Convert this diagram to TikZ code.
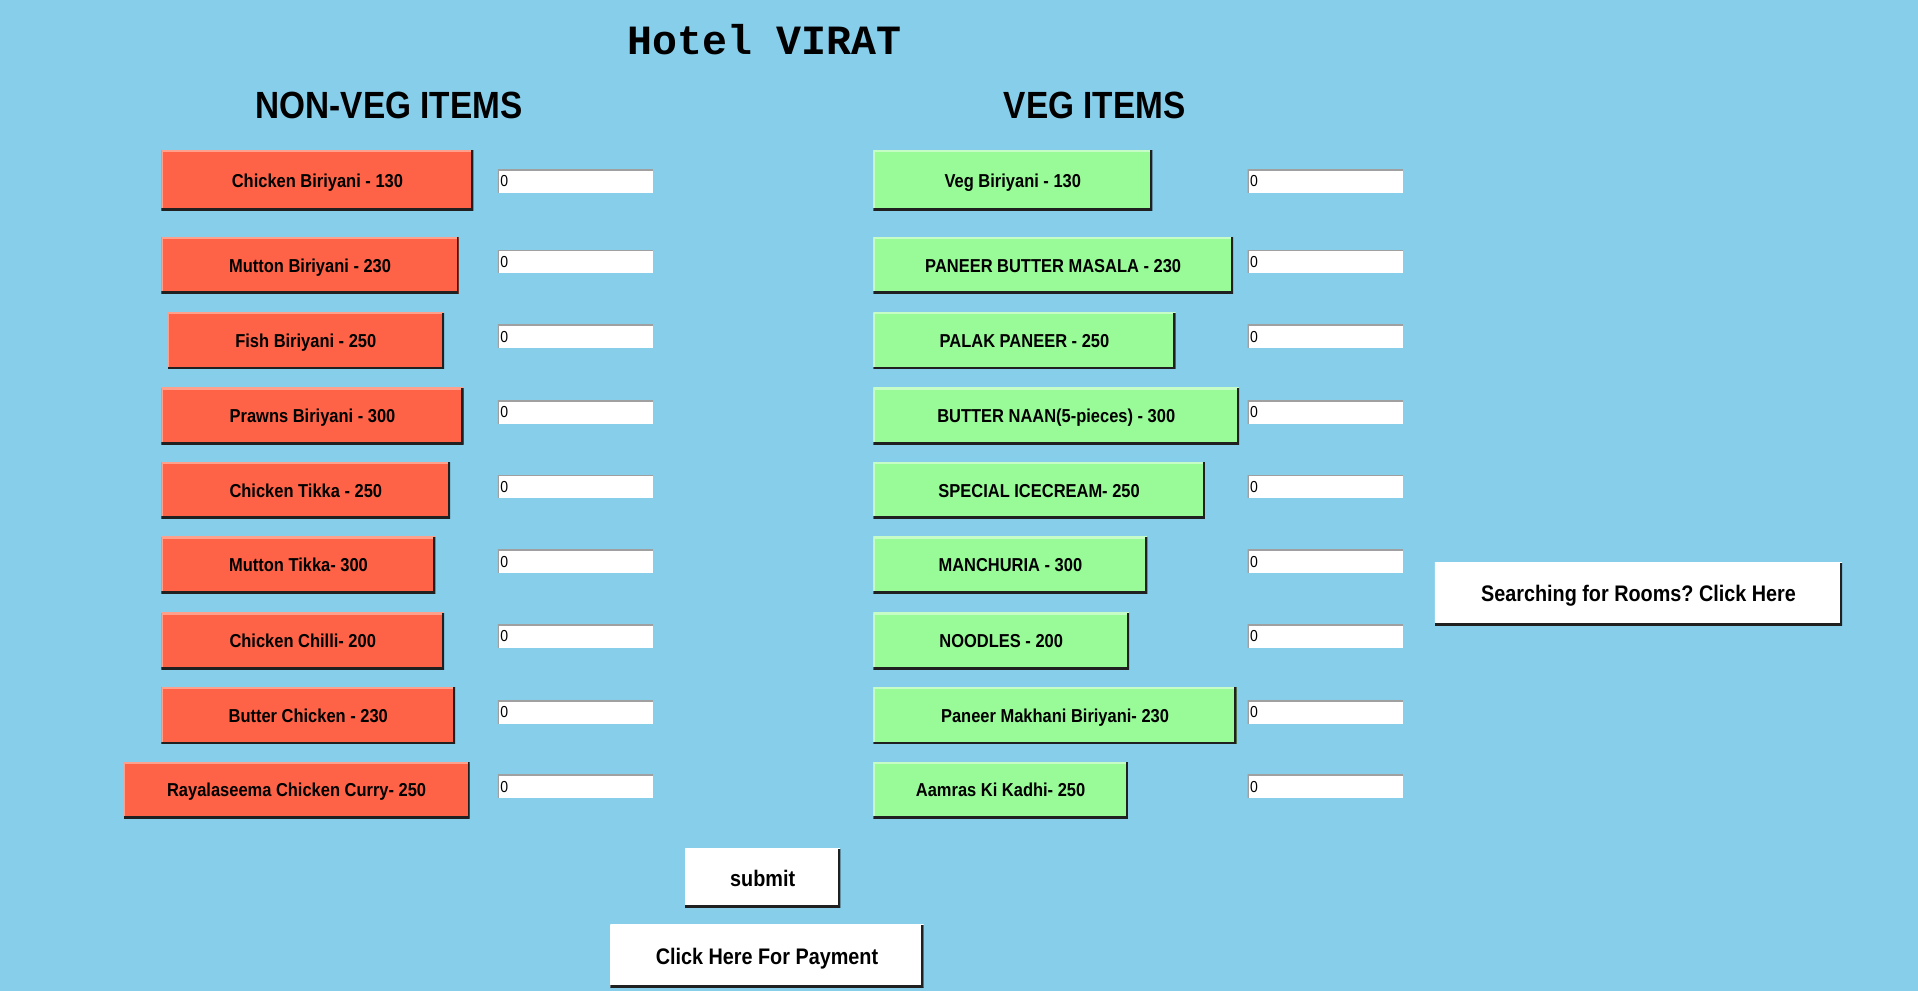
\documentclass[tikz,border=0pt]{standalone}
\usepackage{fontspec}
\setmainfont{Liberation Sans}
\newfontfamily\uifont[FakeStretch=0.88]{Liberation Sans}
\newfontfamily\titlefont{Liberation Mono}
\usetikzlibrary{positioning}
\frenchspacing
\definecolor{skyback}{HTML}{87CEEB}
\definecolor{nonveg}{HTML}{FF6347}
\definecolor{nonvegedge}{HTML}{FFA08C}
\definecolor{veg}{HTML}{98FB98}
\definecolor{vegedge}{HTML}{C6FDC6}
\definecolor{edgedark}{HTML}{202020}
\definecolor{entryedge}{HTML}{A0A0A0}
\tikzset{
  raised/.style={inner sep=0pt, text=black, text depth=0pt,
    path picture={
      \draw[line width=3pt,#1] (path picture bounding box.south west) -- (path picture bounding box.north west) -- (path picture bounding box.north east);
      \draw[line width=3.6pt,edgedark] (path picture bounding box.north east) -- (path picture bounding box.south east) -- (path picture bounding box.south west);
    }},
  nvbtn/.style={raised=nonvegedge, fill=nonveg, minimum height=46pt, text height=11pt, font=\uifont\bfseries\fontsize{15.3}{18}\selectfont},
  vbtn/.style={raised=vegedge, fill=veg, minimum height=46pt, text height=11pt, font=\uifont\bfseries\fontsize{15.3}{18}\selectfont},
  whitebtn/.style={raised=white, fill=white, minimum height=50pt, text height=13.2pt, font=\uifont\bfseries\fontsize{18.4}{22}\selectfont},
  entrybox/.style={fill=white, minimum height=19pt, text width=123pt, inner xsep=2pt, inner ysep=0pt, align=left,
    font=\uifont\fontsize{13}{15}\selectfont, text height=9.3pt, text depth=0pt,
    path picture={
      \draw[line width=2pt,entryedge] (path picture bounding box.south west) -- (path picture bounding box.north west) -- (path picture bounding box.north east);
    }},
  heading/.style={font=\uifont\bfseries\fontsize{31}{36}\selectfont, inner sep=0pt}
}
\begin{document}
\begin{tikzpicture}[x=1pt,y=-1pt]
  \fill[skyback] (0,0) rectangle (1568,810);
  \useasboundingbox (0,0) rectangle (1568,810);

  \node[font=\titlefont\bfseries\fontsize{34}{40}\selectfont, inner sep=0pt] (title) at (625,32) {Hotel VIRAT};
  \node[heading] (nvhead) at (318,86) {NON-VEG ITEMS};
  \node[heading] (vhead) at (895,86) {VEG ITEMS};

  \node[nvbtn, minimum width=255pt, minimum height=49pt] (nv1) at (259.5,147.5) {Chicken Biriyani - 130};
  \node[nvbtn, minimum width=243pt] (nv2) at (253.5,217) {Mutton Biriyani - 230};
  \node[nvbtn, minimum width=226pt] (nv3) at (250,278.5) {Fish Biriyani - 250};
  \node[nvbtn, minimum width=247pt] (nv4) at (255.5,340) {Prawns Biriyani - 300};
  \node[nvbtn, minimum width=236pt] (nv5) at (250,401) {Chicken Tikka - 250};
  \node[nvbtn, minimum width=224pt] (nv6) at (244,462) {Mutton Tikka- 300};
  \node[nvbtn, minimum width=231pt] (nv7) at (247.5,524) {Chicken Chilli- 200};
  \node[nvbtn, minimum width=240pt] (nv8) at (252,585) {Butter Chicken - 230};
  \node[nvbtn, minimum width=283pt] (nv9) at (242.5,646) {Rayalaseema Chicken Curry- 250};

  \node[entrybox] (nvq1) at (470.5,148) {0};
  \node[entrybox] (nvq2) at (470.5,214) {0};
  \node[entrybox] (nvq3) at (470.5,275) {0};
  \node[entrybox] (nvq4) at (470.5,337) {0};
  \node[entrybox] (nvq5) at (470.5,398) {0};
  \node[entrybox] (nvq6) at (470.5,459) {0};
  \node[entrybox] (nvq7) at (470.5,520) {0};
  \node[entrybox] (nvq8) at (470.5,582) {0};
  \node[entrybox] (nvq9) at (470.5,643) {0};

  \node[vbtn, minimum width=228pt, minimum height=49pt] (v1) at (828,147.5) {Veg Biriyani - 130};
  \node[vbtn, minimum width=294pt] (v2) at (861,217) {PANEER BUTTER MASALA - 230};
  \node[vbtn, minimum width=247pt] (v3) at (837.5,278.5) {PALAK PANEER - 250};
  \node[vbtn, minimum width=299pt] (v4) at (863.5,340) {BUTTER NAAN(5-pieces) - 300};
  \node[vbtn, minimum width=271pt] (v5) at (849.5,401) {SPECIAL ICECREAM- 250};
  \node[vbtn, minimum width=224pt] (v6) at (826,462) {MANCHURIA - 300};
  \node[vbtn, minimum width=209pt] (v7) at (818.5,524) {NOODLES - 200};
  \node[vbtn, minimum width=297pt] (v8) at (862.5,585) {Paneer Makhani Biriyani- 230};
  \node[vbtn, minimum width=208pt] (v9) at (818,646) {Aamras Ki Kadhi- 250};

  \node[entrybox] (vq1) at (1083.5,148) {0};
  \node[entrybox] (vq2) at (1083.5,214) {0};
  \node[entrybox] (vq3) at (1083.5,275) {0};
  \node[entrybox] (vq4) at (1083.5,337) {0};
  \node[entrybox] (vq5) at (1083.5,398) {0};
  \node[entrybox] (vq6) at (1083.5,459) {0};
  \node[entrybox] (vq7) at (1083.5,520) {0};
  \node[entrybox] (vq8) at (1083.5,582) {0};
  \node[entrybox] (vq9) at (1083.5,643) {0};

  \node[whitebtn, minimum width=333pt, minimum height=51pt] (rooms) at (1339.5,485.5) {Searching for Rooms? Click Here};
  \node[whitebtn, minimum width=127pt, minimum height=48pt] (submit) at (623.5,718) {submit};
  \node[whitebtn, minimum width=256pt, minimum height=51pt] (payment) at (627,781.5) {Click Here For Payment};
\end{tikzpicture}
\end{document}
